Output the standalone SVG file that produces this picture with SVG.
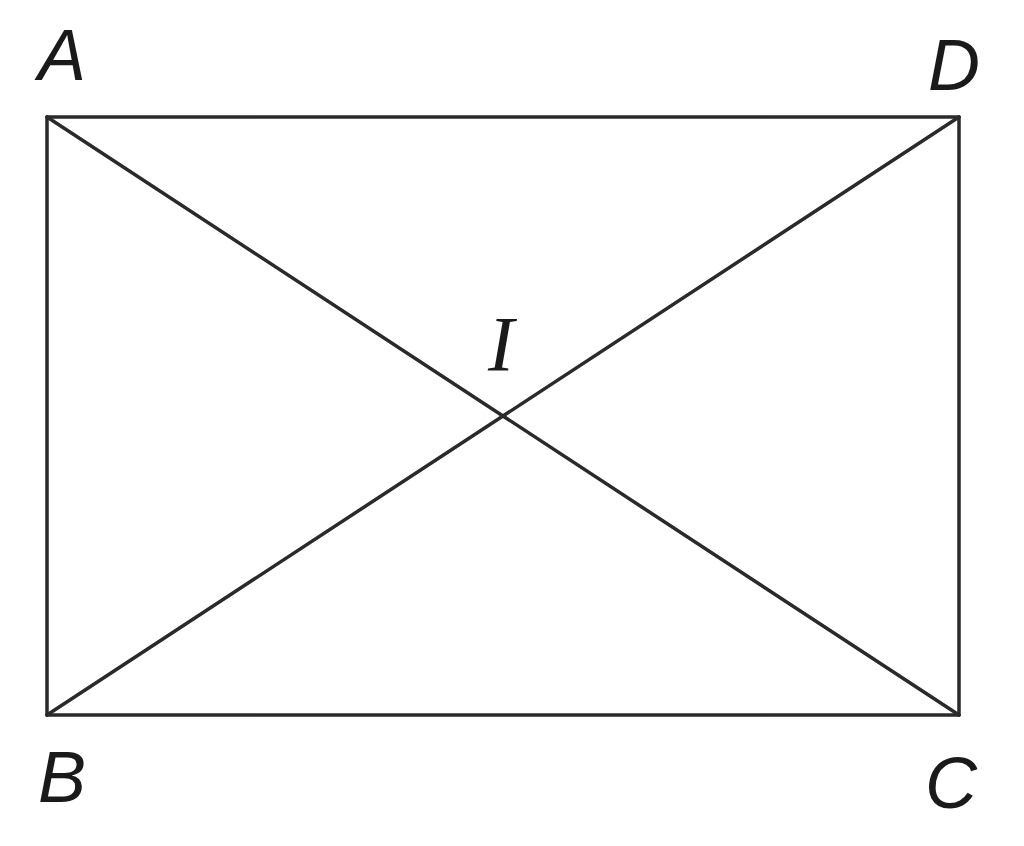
<svg xmlns="http://www.w3.org/2000/svg" width="1024" height="846" viewBox="0 0 1024 846">
<style>
.e{stroke:#2a2a2a;stroke-width:3.5;fill:none;stroke-linecap:round;stroke-linejoin:round}
.l{font-family:"Liberation Sans",Arial,sans-serif;font-style:italic;font-size:72px;fill:#1a1a1a}
.i{font-family:"Liberation Serif","Times New Roman",serif;font-style:italic;font-size:78px;fill:#1a1a1a}
</style>
<rect width="1024" height="846" fill="#fff"/>
<g id="connectors">
<line class="e" x1="47" y1="117" x2="959" y2="117"/>
<line class="e" x1="959" y1="117" x2="959" y2="715"/>
<line class="e" x1="959" y1="715" x2="47" y2="715"/>
<line class="e" x1="47" y1="715" x2="47" y2="117"/>
<line class="e" x1="47" y1="117" x2="959" y2="715"/>
<line class="e" x1="47" y1="715" x2="959" y2="117"/>
</g>
<g id="A"><text class="l" x="38" y="80">A</text></g>
<g id="D"><text class="l" x="928" y="90">D</text></g>
<g id="B"><text class="l" x="38" y="802">B</text></g>
<g id="C"><text class="l" x="925" y="808">C</text></g>
<g id="I"><text class="i" x="488" y="370">I</text></g>
</svg>
